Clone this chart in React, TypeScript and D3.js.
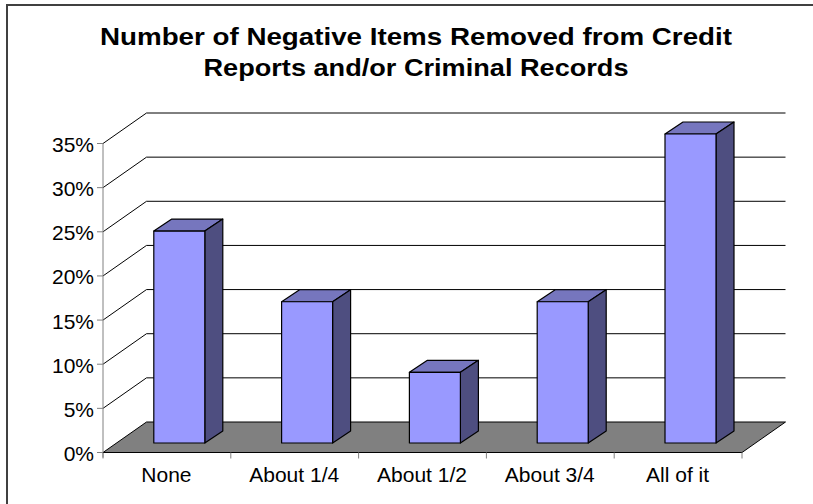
import React from "react";
import * as d3 from "d3";

const categories = ["None", "About 1/4", "About 1/2", "About 3/4", "All of it"];
const shares = [24, 16, 8, 16, 35];
const percentTicks = [0, 5, 10, 15, 20, 25, 30, 35];
const titleLines = [
  "Number of Negative Items Removed from Credit",
  "Reports and/or Criminal Records",
];
const titleWidths = [632, 425];

const width = 813;
const height = 504;
const font = "'Liberation Sans', Arial, sans-serif";

// Front plane of the 3D plot box and its receding offset
const frontLeft = 103;
const frontRight = 742;
const frontBottom = 452.5;
const frontTop = 143.5;
const depthX = 43.5;
const depthY = -30.5;

// Bars stand part-way into the box
const barInsetX = 12.4;
const barInsetY = -9.5;
const barDepthX = 18;
const barDepthY = -12;
const barWidth = 51;

const x = d3.scaleBand<string>().domain(categories).range([frontLeft, frontRight]);
const y = d3.scaleLinear().domain([0, 35]).range([frontBottom, frontTop]);

const poly = (pts: [number, number][]) => pts.map((p) => p.join(",")).join(" ");

export default function App() {
  const floor: [number, number][] = [
    [frontLeft, frontBottom],
    [frontLeft + depthX, frontBottom + depthY],
    [frontRight + depthX, frontBottom + depthY],
    [frontRight, frontBottom],
  ];
  const edges = [frontLeft, ...categories.map((c) => (x(c) as number) + x.bandwidth())];

  return (
    <svg
      width={width}
      height={height}
      viewBox={`0 0 ${width} ${height}`}
      style={{ position: "fixed", left: 0, top: 0, background: "#fff" }}
    >
      {/* chart border, running off the right and bottom edges */}
      <rect x={7} y={5} width={width + 20} height={height + 20} fill="#fff" stroke="#404040" strokeWidth={2} />

      {titleLines.map((line, i) => (
        <text
          key={line}
          x={416}
          y={45 + i * 31}
          textAnchor="middle"
          textLength={titleWidths[i]}
          lengthAdjust="spacingAndGlyphs"
          fontFamily={font}
          fontWeight="bold"
          fontSize={24}
          fill="#000"
        >
          {line}
        </text>
      ))}

      {/* floor */}
      <polygon points={poly(floor)} fill="#808080" />
      <line x1={floor[1][0]} y1={floor[1][1]} x2={floor[2][0]} y2={floor[2][1]} stroke="#000" strokeWidth={1} />
      <line x1={floor[0][0]} y1={floor[0][1]} x2={floor[1][0]} y2={floor[1][1]} stroke="#000" strokeWidth={1} />
      <line x1={floor[2][0]} y1={floor[2][1]} x2={floor[3][0]} y2={floor[3][1]} stroke="#000" strokeWidth={1} />

      {/* gridlines on the back and side walls */}
      {percentTicks.slice(1).map((t) => (
        <g key={t} stroke="#000" strokeWidth={1} fill="none">
          <polyline
            points={poly([
              [frontLeft, y(t)],
              [frontLeft + depthX, y(t) + depthY],
              [frontRight + depthX, y(t) + depthY],
            ])}
          />
        </g>
      ))}

      {/* value axis */}
      <line x1={frontLeft} y1={frontTop} x2={frontLeft} y2={frontBottom + 5} stroke="#808080" strokeWidth={1} />
      {percentTicks.map((t) => (
        <g key={t}>
          <line x1={frontLeft - 6} x2={frontLeft} y1={y(t)} y2={y(t)} stroke="#808080" strokeWidth={1} />
          <text
            x={frontLeft - 9}
            y={y(t) + 8.5}
            textAnchor="end"
            fontFamily={font}
            fontSize={21}
            fill="#000"
          >
            {t}%
          </text>
        </g>
      ))}

      {/* category axis */}
      <line x1={frontLeft} x2={frontRight} y1={frontBottom} y2={frontBottom} stroke="#000" strokeWidth={1} />
      {edges.map((e) => (
        <line key={e} x1={e} x2={e} y1={frontBottom} y2={frontBottom + 6} stroke="#808080" strokeWidth={1} />
      ))}
      {categories.map((c) => (
        <text
          key={c}
          x={(x(c) as number) + x.bandwidth() / 2 - 0.5}
          y={482}
          textAnchor="middle"
          fontFamily={font}
          fontSize={21}
          fill="#000"
        >
          {c}
        </text>
      ))}

      {/* bars: front, top and side faces */}
      {categories.map((c, i) => {
        const left = (x(c) as number) + (x.bandwidth() - barWidth) / 2 + barInsetX;
        const right = left + barWidth;
        const base = y(0) + barInsetY;
        const top = y(shares[i]) + barInsetY;
        return (
          <g key={c} stroke="#000" strokeWidth={1.2} strokeLinejoin="round">
            <polygon
              fill="#7676BE"
              points={poly([
                [left, top],
                [left + barDepthX, top + barDepthY],
                [right + barDepthX, top + barDepthY],
                [right, top],
              ])}
            />
            <polygon
              fill="#4E4E80"
              points={poly([
                [right, top],
                [right + barDepthX, top + barDepthY],
                [right + barDepthX, base + barDepthY],
                [right, base],
              ])}
            />
            <rect x={left} y={top} width={barWidth} height={base - top} fill="#9999FF" />
          </g>
        );
      })}
    </svg>
  );
}
